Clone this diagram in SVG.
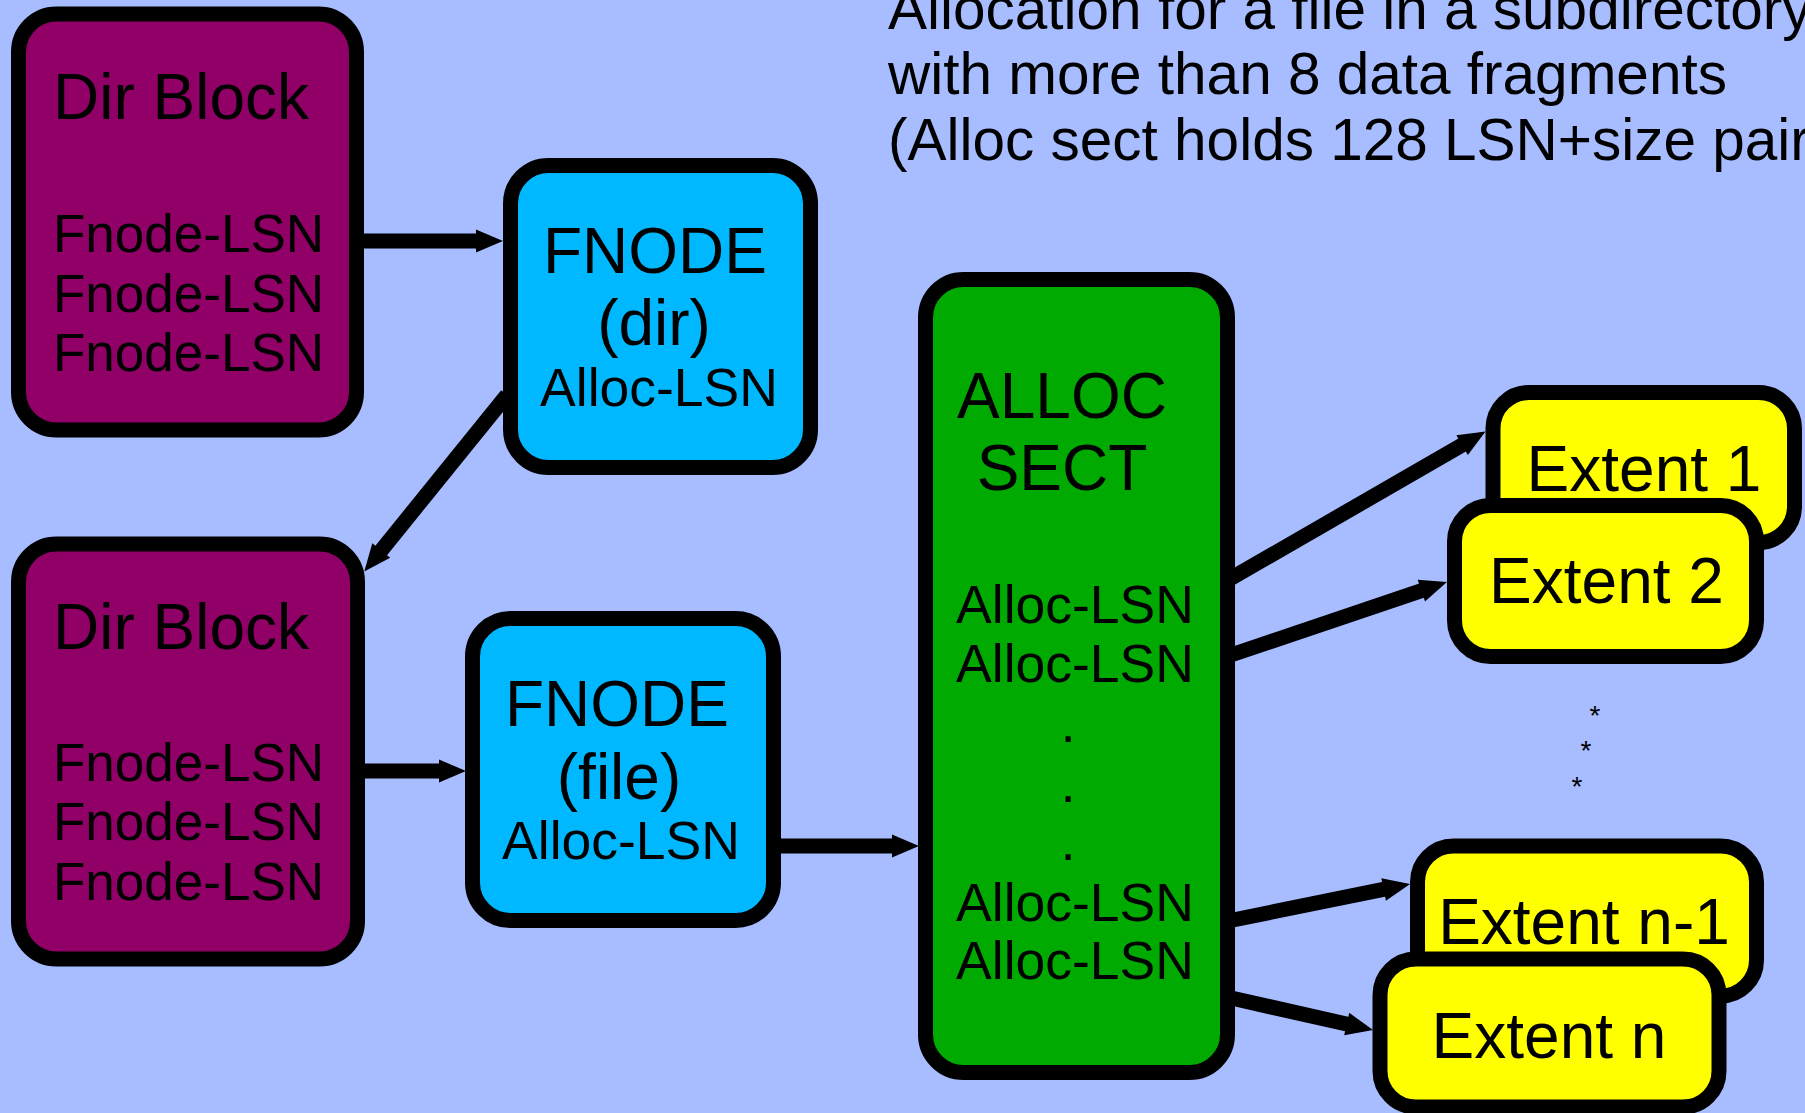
<svg xmlns="http://www.w3.org/2000/svg" width="1805" height="1113" viewBox="0 0 1805 1113">
<defs>
<marker id="ah" markerUnits="userSpaceOnUse" markerWidth="28" markerHeight="24" refX="1" refY="11.5" orient="auto" overflow="visible">
<path d="M0,0 L27,11.5 L0,23 Z" fill="#000"/>
</marker>
<style>
.t{font-family:"Liberation Sans",Arial,sans-serif;fill:#000}
.box{stroke:#000;stroke-width:15}
.dir{fill:#900066}
.fn{fill:#00B8FF}
.al{fill:#00AA00}
.ex{fill:#FFFF00}
.c{fill:none;stroke:#000;stroke-width:15;marker-end:url(#ah)}
.m{text-anchor:middle}
</style>
</defs>
<rect x="0" y="0" width="1805" height="1113" fill="#A7BDFF"/>
<g id="title">
<text class="t" x="888" y="29" font-size="58.5">Allocation for a file in a subdirectory</text>
<text class="t" x="888" y="94" font-size="58.5">with more than 8 data fragments</text>
<text class="t" x="888" y="160" font-size="58.5">(Alloc sect holds 128 LSN+size pairs)</text>
</g>
<g id="connectors">
<line class="c" x1="360" y1="241" x2="477" y2="241"/>
<line class="c" x1="507" y1="395" x2="380.6" y2="551.2"/>
<line class="c" x1="360" y1="771" x2="440" y2="771"/>
<line class="c" x1="775" y1="846" x2="893" y2="846"/>
<line class="c" x1="1228" y1="580" x2="1463" y2="444.6"/>
<line class="c" x1="1228" y1="656" x2="1422.3" y2="590.4"/>
<line class="c" x1="1228" y1="921" x2="1384.6" y2="889.2"/>
<line class="c" x1="1228" y1="997.3" x2="1347.7" y2="1024.3"/>
</g>
<g id="dirblock1">
<rect class="box dir" x="18.5" y="14" width="338" height="416" rx="38" ry="38"/>
<text class="t" x="53" y="119" font-size="64">Dir Block</text>
<text class="t" x="53" y="252" font-size="53">Fnode-LSN</text>
<text class="t" x="53" y="312" font-size="53">Fnode-LSN</text>
<text class="t" x="53" y="371" font-size="53">Fnode-LSN</text>
</g>
<g id="dirblock2">
<rect class="box dir" x="18.5" y="544" width="339" height="415" rx="38" ry="38"/>
<text class="t" x="53" y="649" font-size="64">Dir Block</text>
<text class="t" x="53" y="781" font-size="53">Fnode-LSN</text>
<text class="t" x="53" y="840" font-size="53">Fnode-LSN</text>
<text class="t" x="53" y="900" font-size="53">Fnode-LSN</text>
</g>
<g id="fnode-dir">
<rect class="box fn" x="510.5" y="165.5" width="300" height="302" rx="38" ry="38"/>
<text class="t m" x="655" y="273" font-size="64">FNODE</text>
<text class="t m" x="654" y="345" font-size="64">(dir)</text>
<text class="t m" x="659" y="406" font-size="53.5">Alloc-LSN</text>
</g>
<g id="fnode-file">
<rect class="box fn" x="472.5" y="618.5" width="301" height="302" rx="38" ry="38"/>
<text class="t m" x="617" y="726" font-size="64">FNODE</text>
<text class="t m" x="619" y="799" font-size="64">(file)</text>
<text class="t m" x="621" y="859" font-size="53.5">Alloc-LSN</text>
</g>
<g id="alloc-sect">
<rect class="box al" x="925.5" y="279.5" width="302" height="793" rx="38" ry="38"/>
<text class="t m" x="1062" y="418" font-size="64">ALLOC</text>
<text class="t m" x="1062" y="490" font-size="64">SECT</text>
<text class="t m" x="1075" y="623" font-size="53.5">Alloc-LSN</text>
<text class="t m" x="1075" y="682" font-size="53.5">Alloc-LSN</text>
<text class="t m" x="1068" y="742" font-size="53">.</text>
<text class="t m" x="1068" y="802" font-size="53">.</text>
<text class="t m" x="1068" y="860" font-size="53">.</text>
<text class="t m" x="1075" y="921" font-size="53.5">Alloc-LSN</text>
<text class="t m" x="1075" y="979" font-size="53.5">Alloc-LSN</text>
</g>
<g id="extent1">
<rect class="box ex" x="1493" y="392.5" width="301.5" height="150" rx="36" ry="36"/>
<text class="t m" x="1644" y="490.5" font-size="64">Extent 1</text>
</g>
<g id="extent2">
<rect class="box ex" x="1454.5" y="505.5" width="302" height="151" rx="36" ry="36"/>
<text class="t m" x="1606.5" y="603.3" font-size="64">Extent 2</text>
</g>
<g id="ellipsis">
<text class="t m" x="1595" y="724.5" font-size="28">*</text>
<text class="t m" x="1586" y="759.5" font-size="28">*</text>
<text class="t m" x="1577" y="795.5" font-size="28">*</text>
</g>
<g id="extent-n-1">
<rect class="box ex" x="1417.5" y="846" width="339" height="150" rx="36" ry="36"/>
<text class="t m" x="1584" y="944.3" font-size="64">Extent n-1</text>
</g>
<g id="extent-n">
<rect class="box ex" x="1380" y="959" width="339" height="148" rx="36" ry="36"/>
<text class="t m" x="1549" y="1057.7" font-size="64">Extent n</text>
</g>
</svg>
